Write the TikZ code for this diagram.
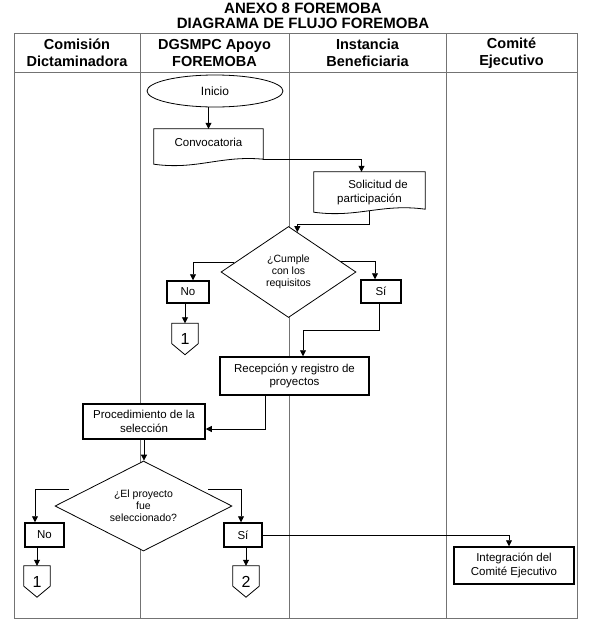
\documentclass[tikz,border=0pt]{standalone}
\usepackage{fontspec}
\setmainfont{Liberation Sans}
\usetikzlibrary{shapes.geometric,arrows.meta,calc}
\pgfdeclarelayer{back}
\pgfdeclarelayer{mid}
\pgfsetlayers{back,mid,main}
\newcommand\docpath[2]{%
  \begin{pgfonlayer}{mid}
  \draw[line width=0.8pt, fill=white] (#1.north west) -- (#1.north east) -- ($(#1.south east)+(0,-#2)$)
    .. controls ($(#1.south)+(12,-10)$) and ($(#1.south)+(-12,5)$) .. ($(#1.south west)+(0,-1)$) -- cycle;
  \end{pgfonlayer}}
\newcommand\offpath[1]{%
  \begin{pgfonlayer}{mid}
  \draw[line width=0.8pt, fill=white] (#1.north west) -- (#1.north east) -- ([yshift=11pt]#1.south east)
    -- (#1.south) -- ([yshift=11pt]#1.south west) -- cycle;
  \end{pgfonlayer}}
\begin{document}
\begin{tikzpicture}[x=1pt,y=-1pt,
  frame/.style={draw=black!55, line width=0.8pt},
  ttl/.style={font=\fontsize{15}{15}\selectfont\bfseries, align=center, inner sep=0pt},
  hdr/.style={font=\fontsize{14.5}{17}\selectfont\bfseries, align=center, inner sep=0pt},
  box/.style={draw, fill=white, line width=1.5pt, align=center, inner sep=0pt,
    font=\fontsize{11.5}{13.3}\selectfont},
  doc/.style={align=center, inner sep=0pt, font=\fontsize{11.5}{13.3}\selectfont},
  dia/.style={diamond, draw, fill=white, line width=0.8pt, inner sep=0pt, aspect=1.5,
    align=center, font=\fontsize{10.5}{12}\selectfont},
  offp/.style={inner sep=0pt, minimum width=26pt, minimum height=31pt,
    font=\fontsize{16}{16}\selectfont},
  arr/.style={-{Triangle[length=6pt,width=6pt]}, line width=0.8pt},
]
\useasboundingbox (0,0) rectangle (590,637);

% frame
\begin{pgfonlayer}{back}
\draw[frame] (14,33) rectangle (577,618);
\draw[frame] (14,72) -- (577,72);
\foreach \xx in {140,289,446} {\draw[frame] (\xx,33) -- (\xx,618);}
\end{pgfonlayer}

% titles
\node[ttl] (t1) at (303,8) {ANEXO 8 FOREMOBA};
\node[ttl] (t2) at (303,23) {DIAGRAMA DE FLUJO FOREMOBA};
\node[hdr] (h1) at (77,53) {Comisión\\Dictaminadora};
\node[hdr] (h2) at (214.5,53) {DGSMPC Apoyo\\FOREMOBA};
\node[hdr] (h3) at (367.5,53) {Instancia\\Beneficiaria};
\node[hdr] (h4) at (511.5,53) {Comité\\Ejecutivo};

% nodes
\node[ellipse, draw, fill=white, line width=0.8pt, minimum width=136pt, minimum height=32pt,
  inner sep=0pt, font=\fontsize{12}{14}\selectfont] (ini) at (215,91) {Inicio};
\node[doc, minimum width=109pt, minimum height=36pt, text height=9pt, text depth=11pt] (conv) at (208.5,147) {Convocatoria};
\docpath{conv}{6}
\node[doc, minimum width=111pt, minimum height=41pt] (sol) at (369.5,192.5) {\hspace*{17pt}Solicitud de\\participación};
\docpath{sol}{4}
\node[dia, minimum width=135pt, minimum height=91pt] (d1) at (288.5,272) {¿Cumple\\con los\\requisitos};
\node[box, minimum width=42pt, minimum height=22pt] (no1) at (188,292) {No};
\node[box, minimum width=40pt, minimum height=23pt] (si1) at (381,291.5) {Sí};
\node[offp] (c1) at (185,339) {1};
\offpath{c1}
\node[box, minimum width=149pt, minimum height=38pt] (rec) at (294.5,376) {Recepción y registro de\\proyectos};
\node[box, minimum width=122pt, minimum height=35pt] (proc) at (144,421.5) {Procedimiento de la\\selección};
\node[dia, minimum width=177pt, minimum height=90pt] (d2) at (143.5,506) {¿El proyecto\\fue\\seleccionado?};
\node[box, minimum width=39pt, minimum height=24pt] (no2) at (44.5,535) {No};
\node[box, minimum width=38pt, minimum height=24pt] (si2) at (243,535) {Sí};
\node[offp] (c1b) at (37,581.5) {1};
\offpath{c1b}
\node[offp] (c2) at (246,581.5) {2};
\offpath{c2}
\node[box, minimum width=120pt, minimum height=37pt] (integ) at (514,565.5) {Integración del\\Comité Ejecutivo};

% connectors
\draw[arr] (ini.south -| conv.north) -- (conv.north);
\coordinate (convout) at ($(conv.south east)+(0,-6)$);
\draw[arr] (convout) -| ([xshift=-8pt]sol.north);
\coordinate (d1in) at ($(d1.north)!0.13!(d1.east)$);
\draw[arr] ([yshift=2pt]sol.south) -- ++(0,13) -| (d1in);
\coordinate (d1l) at ($(d1.west)!0.2!(d1.north)$);
\draw[arr] (d1l) -| ([xshift=5pt]no1.north);
\coordinate (d1r) at ($(d1.north)!0.76!(d1.east)$);
\draw[arr] (d1r) -| ([xshift=-6pt]si1.north);
\draw[arr] (no1.south -| c1.north) -- (c1.north);
\draw[arr] ([xshift=-2pt]si1.south) -- ++(0,27) -| ([xshift=8.5pt]rec.north);
\draw[arr] ([xshift=-29.5pt]rec.south) |- ([yshift=-7.5pt]proc.east);
\draw[arr] (proc.south) -- (proc.south |- d2.north);
\coordinate (d2l) at ($(d2.west)+(14,-17)$);
\coordinate (d2r) at ($(d2.east)+(-24,-17)$);
\draw[arr] (d2l) -| ([xshift=-9.5pt]no2.north);
\draw[arr] (d2r) -| ([xshift=-2pt]si2.north);
\draw[arr] (no2.south -| c1b.north) -- (c1b.north);
\draw[arr] (si2.south -| c2.north) -- (c2.north);
\draw[arr] (si2.east) -| ([xshift=-5pt]integ.north);
\end{tikzpicture}
\end{document}
